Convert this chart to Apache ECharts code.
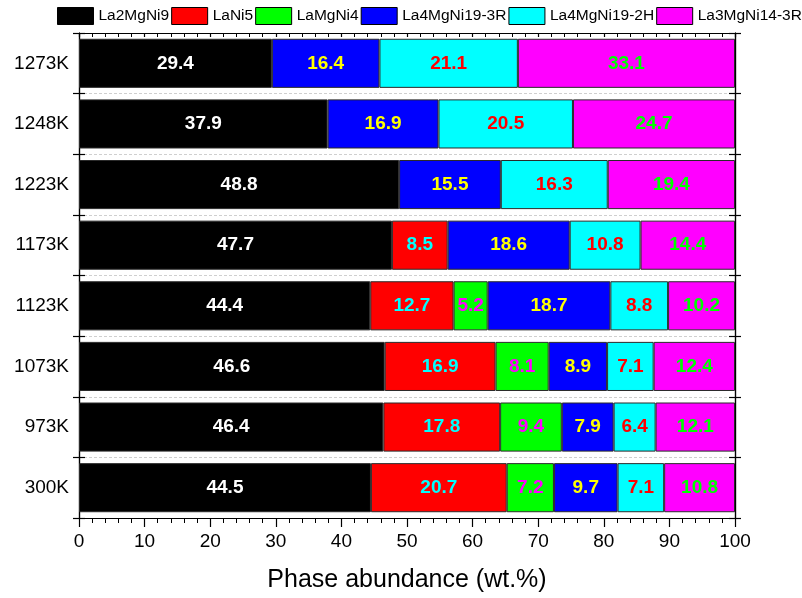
<!DOCTYPE html>
<html>
<head>
<meta charset="utf-8">
<script src="https://cdn.jsdelivr.net/npm/echarts@6/dist/echarts.min.js"></script>
<style>
  html, body { margin: 0; padding: 0; background: #fff; }
  #chart { width: 802px; height: 598px; }
</style>
</head>
<body>
<div id="chart"></div>
<script>
// Annealing temperatures, bottom to top
const temperatures = ['300K', '973K', '1073K', '1123K', '1173K', '1223K', '1248K', '1273K'];

// Phase abundances (wt.%) per temperature; null = phase absent
const la2MgNi9   = [44.5, 46.4, 46.6, 44.4, 47.7, 48.8, 37.9, 29.4];
const laNi5      = [20.7, 17.8, 16.9, 12.7, 8.5, null, null, null];
const laMgNi4    = [7.2, 9.4, 8.1, 5.2, null, null, null, null];
const la4MgNi19R = [9.7, 7.9, 8.9, 18.7, 18.6, 15.5, 16.9, 16.4];
const la4MgNi19H = [7.1, 6.4, 7.1, 8.8, 10.8, 16.3, 20.5, 21.1];
const la3MgNi14R = [10.8, 12.1, 12.4, 10.2, 14.4, 19.4, 24.7, 33.1];

const xTicks = [0, 10, 20, 30, 40, 50, 60, 70, 80, 90, 100];

const phases = [
  { name: 'La2MgNi9',     data: la2MgNi9,   fill: '#000000', text: '#ffffff' },
  { name: 'LaNi5',        data: laNi5,      fill: '#ff0000', text: '#00ffff' },
  { name: 'LaMgNi4',      data: laMgNi4,    fill: '#00ff00', text: '#ff00ff' },
  { name: 'La4MgNi19-3R', data: la4MgNi19R, fill: '#0000ff', text: '#ffff00' },
  { name: 'La4MgNi19-2H', data: la4MgNi19H, fill: '#00ffff', text: '#ff0000' },
  { name: 'La3MgNi14-3R', data: la3MgNi14R, fill: '#ff00ff', text: '#00ff00' }
];

const FONT = 'Liberation Sans, Arial, sans-serif';
const chart = echarts.init(document.getElementById('chart'), null, { renderer: 'canvas' });

function catAxis(position, inside, extra) {
  return Object.assign({
    type: 'category',
    data: temperatures,
    position: position,
    boundaryGap: true,
    axisLine: { show: true, lineStyle: { color: '#000', width: 1.2 } },
    axisTick: { show: true, inside: inside, length: 6, lineStyle: { color: '#000', width: 1.2 } },
    axisLabel: { show: false },
    splitLine: { show: false }
  }, extra || {});
}

function valAxis(position, inside, showLabels, len, minorLen) {
  return {
    type: 'value',
    position: position,
    min: xTicks[0],
    max: xTicks[xTicks.length - 1],
    interval: 10,
    axisLine: { show: true, onZero: false, lineStyle: { color: '#000', width: 1.2 } },
    axisTick: { show: true, inside: inside, length: len, lineStyle: { color: '#000', width: 1.2 } },
    minorTick: { show: true, splitNumber: 5, length: minorLen, lineStyle: { color: '#000', width: 1 } },
    axisLabel: showLabels
      ? { show: true, color: '#000', fontFamily: FONT, fontSize: 19, margin: 14 }
      : { show: false },
    splitLine: { show: false },
    name: showLabels ? 'Phase abundance (wt.%)' : '',
    nameLocation: 'middle',
    nameGap: 50,
    nameTextStyle: { color: '#000', fontFamily: FONT, fontSize: 25 }
  };
}

const option = {
  backgroundColor: '#ffffff',
  animation: false,
  legend: {
    left: 57,
    top: 7,
    width: 745,
    padding: 0,
    icon: 'rect',
    itemWidth: 36,
    itemHeight: 17,
    itemGap: 2,
    textStyle: { color: '#000', fontFamily: FONT, fontSize: 15.5 },
    itemStyle: { borderColor: '#000', borderWidth: 1 },
    data: phases.map(p => p.name)
  },
  grid: { left: 79, right: 67, top: 33, bottom: 79, containLabel: false },
  xAxis: [
    valAxis('bottom', false, true, 9, 5),
    valAxis('top', true, false, 4, 4)
  ],
  yAxis: [
    catAxis('left', false, {
      axisLabel: { show: true, color: '#000', fontFamily: FONT, fontSize: 19, margin: 10 },
      splitLine: { show: true, lineStyle: { color: '#cfcfcf', type: [3, 2], width: 1 } }
    }),
    catAxis('left', true),
    catAxis('right', false),
    catAxis('right', true)
  ],
  series: phases.map(p => ({
    name: p.name,
    type: 'bar',
    stack: 'total',
    xAxisIndex: 0,
    yAxisIndex: 0,
    barWidth: '81%',
    data: p.data,
    itemStyle: { color: p.fill, borderColor: '#2a2a2a', borderWidth: 1 },
    label: {
      show: true,
      position: 'inside',
      color: p.text,
      fontFamily: FONT,
      fontWeight: 'bold',
      fontSize: 19,
      formatter: d => d.value == null ? '' : d.value.toFixed(1)
    }
  }))
};

chart.setOption(option);
</script>
</body>
</html>
